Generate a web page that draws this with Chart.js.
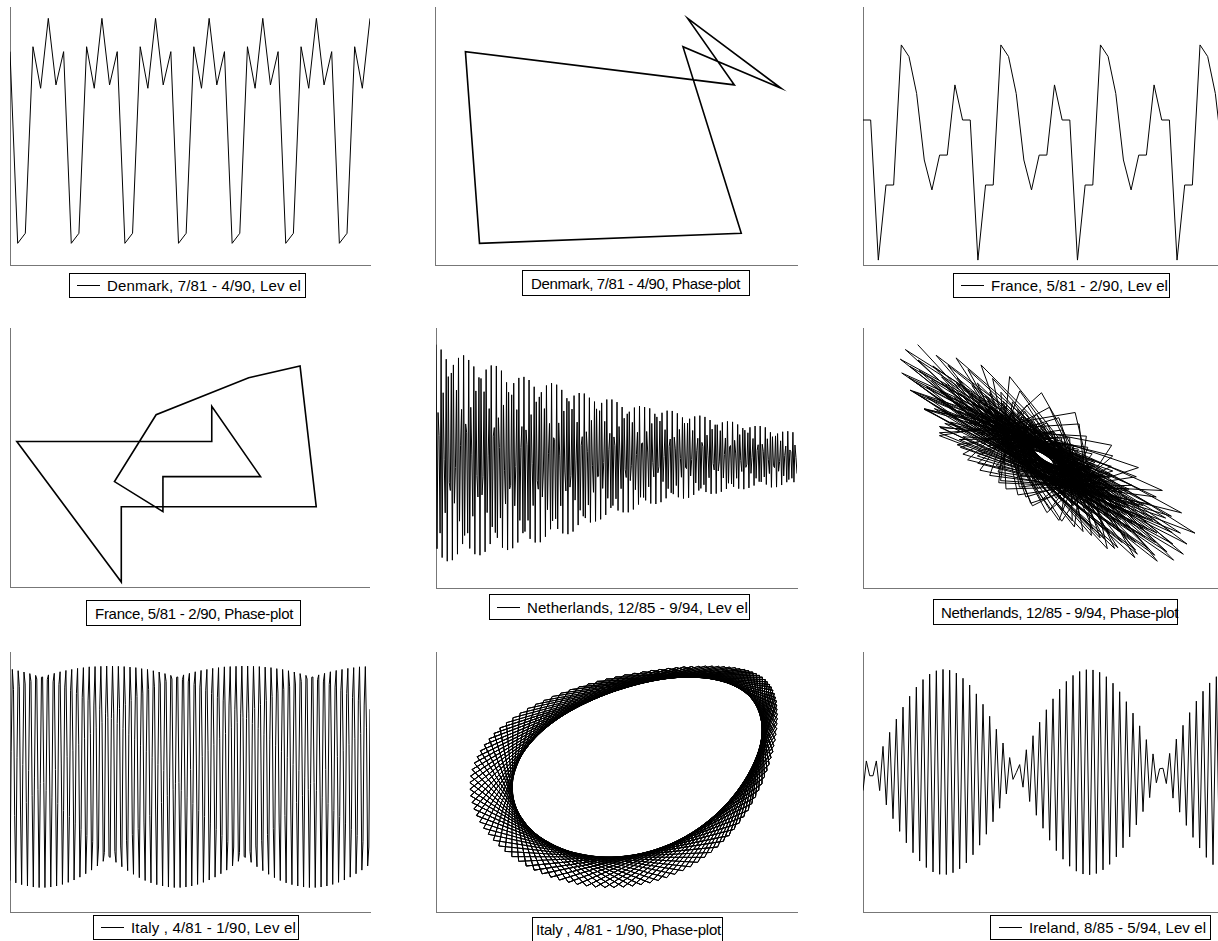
<!DOCTYPE html>
<html>
<head>
<meta charset="utf-8">
<script src="https://cdn.jsdelivr.net/npm/chart.js@4.4.1/dist/chart.umd.min.js"></script>
<style>
  body { margin: 0; width: 1218px; height: 941px; overflow: hidden; background: #fff; position: relative;
         font-family: "Liberation Sans", Arial, Helvetica, sans-serif; }
  canvas { position: absolute; }
  .leg { position: absolute; box-sizing: border-box; border: 1px solid #000; background: #fff;
         font-size: 15px; white-space: nowrap; color: #000; display: flex; align-items: center; }
  .leg .ln { display: inline-block; width: 23px; height: 0; border-top: 1px solid #000; margin-right: 7px; }
</style>
</head>
<body>
<script>
// values are in percent of each panel's value range (0 = x axis, 100 = top of y axis)
const denmarkLevel = [82.7,
  8.4, 12.3, 84.6, 68.5, 95.6, 69.8, 82.7,
  8.4, 12.3, 84.6, 68.5, 95.6, 69.8, 82.7,
  8.4, 12.3, 84.6, 68.5, 95.6, 69.8, 82.7,
  8.4, 12.3, 84.6, 68.5, 95.6, 69.8, 82.7,
  8.4, 12.3, 84.6, 68.5, 95.6, 69.8, 82.7,
  8.4, 12.3, 84.6, 68.5, 95.6, 69.8, 82.7,
  8.4, 12.3, 84.6, 68.5, 95.6];

const franceLevel = [56.2, 56.2,
  1.9, 31.0, 31.0, 85.3, 80.8, 66.5, 40.7, 29.1, 42.6, 42.6, 69.8, 56.2, 56.2,
  1.9, 31.0, 31.0, 85.3, 80.8, 66.5, 40.7, 29.1, 42.6, 42.6, 69.8, 56.2, 56.2,
  1.9, 31.0, 31.0, 85.3, 80.8, 66.5, 40.7, 29.1, 42.6, 42.6, 69.8, 56.2, 56.2,
  1.9, 31.0, 31.0, 85.3, 80.8, 66.5, 40.7];

const netherlandsLevel = [
  93.6, 15.1, 67.5, 58.6, 21.1, 91.7, 11.7, 75.1, 49.3, 28.9, 88.0, 10.3, 81.3, 40.5, 37.5,
  82.7, 10.7, 85.8, 32.6, 46.3, 76.1, 13.0, 88.5, 25.7, 54.9, 68.7, 16.9, 89.5, 20.2, 63.1,
  59.7, 21.1, 87.7, 15.2, 69.5, 51.5, 27.6, 85.2, 13.0, 75.8, 43.3, 35.0, 81.0, 12.6, 80.6,
  35.8, 42.8, 75.5, 13.9, 84.0, 29.0, 50.8, 69.0, 16.9, 85.6, 23.5, 58.4, 61.7, 21.3, 85.4,
  19.3, 65.5, 54.1, 26.9, 83.6, 15.5, 70.4, 45.3, 32.3, 79.1, 14.6, 75.3, 38.1, 39.5, 74.3,
  15.3, 78.8, 31.6, 46.8, 68.6, 17.5, 80.8, 26.0, 54.1, 62.1, 21.1, 81.2, 21.7, 60.8, 55.1,
  26.0, 80.0, 18.9, 66.7, 48.0, 31.7, 77.4, 17.5, 71.6, 41.3, 38.0, 73.5, 17.6, 75.3, 35.0,
  45.0, 69.0, 19.7, 77.9, 30.1, 51.6, 63.3, 22.6, 78.8, 25.8, 57.8, 57.1, 26.6, 78.2, 22.7,
  63.5, 50.8, 31.6, 76.2, 21.0, 68.1, 44.6, 37.3, 73.0, 20.7, 71.8, 38.8, 43.2, 68.8, 21.7,
  74.0, 33.8, 49.2, 63.8, 24.2, 75.0, 29.9, 54.9, 58.2, 27.6, 74.8, 26.9, 60.1, 52.6, 31.9,
  73.2, 25.2, 64.5, 47.0, 36.8, 71.7, 25.6, 68.9, 42.8, 43.0, 68.2, 26.4, 71.2, 38.3, 48.3,
  64.1, 28.1, 72.5, 34.5, 53.4, 59.5, 30.8, 72.5, 31.7, 58.1, 54.7, 34.3, 71.5, 29.8, 62.1,
  50.0, 38.2, 69.6, 29.1, 65.3, 45.5, 42.5, 67.0, 29.1, 67.8, 41.3, 47.0, 63.7, 30.2, 69.4,
  37.8, 51.4, 59.9, 32.1, 70.0, 34.9, 55.6, 55.8, 34.8, 69.6, 33.7, 60.2, 52.3, 38.9, 69.1,
  32.5, 63.3, 48.2, 42.7, 67.0, 32.3, 65.8, 44.3, 46.6, 64.2, 33.0, 67.4, 40.9, 50.6, 60.9,
  34.5, 68.2, 38.2, 54.5, 57.3, 36.6, 68.1, 36.1, 58.0, 53.5, 39.4, 67.2, 34.9, 61.0, 49.8,
  42.6, 65.6, 34.4, 63.4, 46.3, 45.9, 63.4, 34.7, 65.1, 43.1, 49.4, 60.6, 35.8, 66.0, 40.4,
  52.8, 57.6, 37.5, 66.3, 38.3, 56.0, 54.4, 39.7, 65.8, 36.9, 58.8, 51.1, 42.4, 64.6, 36.2,
  61.1, 47.9, 45.4, 62.8, 36.3, 62.8, 45.0, 48.5, 60.5, 37.0, 63.7, 42.3, 51.3, 57.7, 38.1,
  64.1, 40.3, 54.2, 54.8, 40.0, 63.9, 38.9, 56.8, 51.9, 42.2, 62.9, 38.2, 59.0, 49.0, 44.8,
  61.5, 38.0, 60.7, 46.4, 47.6, 59.7, 38.5, 61.8, 44.1, 50.3, 57.5, 39.4, 62.3, 42.2, 52.9,
  55.1, 40.9, 62.3, 40.8, 55.3, 52.6, 42.7, 61.8, 39.8, 57.4, 49.3, 44.0, 59.9, 38.7, 58.2,
  47.0, 46.3, 58.5, 38.8, 59.4, 44.9, 48.7, 56.6, 39.6, 60.1, 43.1, 51.0, 54.6, 40.7, 60.3,
  41.7, 53.1, 52.4, 42.2, 59.9, 40.7, 55.0, 50.2, 44.0];

const italyLevel = [
  12.1, 61.6, 93.3, 85.5, 37.1, 11.2, 59.3, 92.8, 86.6, 39.6, 10.5, 56.8, 92.3, 87.7, 42.1, 10.0, 54.4, 91.7, 88.7, 44.7,
  9.6, 51.9, 91.0, 89.6, 47.2, 9.4, 49.3, 90.3, 90.4, 49.8, 9.4, 46.8, 89.4, 91.2, 52.3, 9.6, 44.2, 88.5, 91.8, 54.8,
  10.0, 41.7, 87.5, 92.4, 57.3, 10.6, 39.1, 86.5, 92.9, 59.7, 11.4, 36.7, 85.3, 93.3, 62.0, 12.3, 34.2, 84.0, 93.7, 64.3,
  13.4, 31.8, 82.6, 94.0, 66.6, 14.7, 29.4, 81.2, 94.3, 68.7, 16.1, 27.2, 79.6, 94.4, 70.8, 17.7, 25.0, 78.0, 94.5, 72.8,
  19.5, 22.9, 76.2, 94.6, 74.7, 21.3, 21.0, 74.4, 94.6, 76.5, 23.3, 19.1, 72.5, 94.5, 78.3, 25.4, 17.4, 70.5, 94.4, 79.9,
  27.6, 15.9, 68.4, 94.2, 81.4, 29.9, 14.5, 66.2, 94.0, 82.9, 32.2, 13.2, 63.9, 93.6, 84.2, 34.6,
  12.1, 61.6, 93.3, 85.5, 37.1, 11.2, 59.3, 92.8, 86.6, 39.6, 10.5, 56.8, 92.3, 87.7, 42.1, 10.0, 54.4, 91.7, 88.7, 44.7,
  9.6, 51.9, 91.0, 89.6, 47.2, 9.4, 49.3, 90.3, 90.4, 49.8, 9.4, 46.8, 89.4, 91.2, 52.3, 9.6, 44.2, 88.5, 91.8, 54.8,
  10.0, 41.7, 87.5, 92.4, 57.3, 10.6, 39.1, 86.5, 92.9, 59.7, 11.4, 36.7, 85.3, 93.3, 62.0, 12.3, 34.2, 84.0, 93.7, 64.3,
  13.4, 31.8, 82.6, 94.0, 66.6, 14.7, 29.4, 81.2, 94.3, 68.7, 16.1, 27.2, 79.6, 94.4, 70.8, 17.7, 25.0, 78.0, 94.5, 72.8,
  19.5, 22.9, 76.2, 94.6, 74.7, 21.3, 21.0, 74.4, 94.6, 76.5, 23.3, 19.1, 72.5, 94.5, 78.3, 25.4, 17.4, 70.5, 94.4, 79.9,
  27.6, 15.9, 68.4, 94.2, 81.4, 29.9, 14.5, 66.2, 94.0, 82.9, 32.2, 13.2, 63.9, 93.6, 84.2, 34.6,
  12.1, 61.6, 93.3, 85.5, 37.1, 11.2, 59.3, 92.8, 86.6, 39.6, 10.5, 56.8, 92.3, 87.7, 42.1, 10.0, 54.4, 91.7, 88.7, 44.7,
  9.6, 51.9, 91.0, 89.6, 47.2, 9.4, 49.3, 90.3, 90.4, 49.8, 9.4, 46.8, 89.4, 91.2, 52.3, 9.6, 44.2, 88.5, 91.8, 54.8,
  10.0, 41.7, 87.5, 92.4, 57.3, 10.6, 39.1, 86.5, 92.9, 59.7, 11.4, 36.7, 85.3, 93.3, 62.0, 12.3, 34.2, 84.0, 93.7, 64.3,
  13.4, 31.8, 82.6, 94.0, 66.6, 14.7, 29.4, 81.2, 94.3, 68.7, 16.1, 27.2, 79.6, 94.4, 70.8, 17.7, 25.0, 78.0];

const irelandLevel = [
  46.7, 58.1, 52.4, 52.4, 58.1, 46.7, 63.7, 41.2, 69.1, 35.9, 74.2, 31.0, 78.8, 26.6, 83.0, 22.8, 86.5, 19.6, 89.4, 17.1,
  91.5, 15.4, 92.8, 14.5, 93.3, 14.4, 93.0, 15.1, 91.9, 16.6, 89.9, 18.9, 87.3, 22.0, 83.9, 25.7, 79.9, 29.9, 75.3, 34.7,
  70.3, 39.9, 65.0, 45.4, 59.4, 51.0, 53.7, 56.7, 48.0, 62.4, 42.5, 67.8, 37.2, 73.0, 32.2, 77.8, 27.6, 82.0, 23.6, 85.7,
  20.3, 88.7, 17.6, 91.0, 15.7, 92.5, 14.6, 93.2, 14.3, 93.1, 14.8, 92.2, 16.2, 90.5, 18.3, 88.0, 21.2, 84.7, 24.7, 80.9,
  28.9, 76.5, 33.5, 71.6, 38.6, 66.3, 44.0, 60.8, 49.7, 55.1, 55.3, 49.4, 61.0, 43.8, 66.5, 38.4, 71.8, 33.3, 76.7, 28.7,
  81.1, 24.6, 84.9, 21.0, 88.1, 18.2, 90.5, 16.1, 92.2];

const legendTexts = [
  "Denmark, 7/81 - 4/90, Lev el", "Denmark, 7/81 - 4/90, Phase-plot", "France, 5/81 - 2/90, Lev el",
  "France, 5/81 - 2/90, Phase-plot", "Netherlands, 12/85 - 9/94, Lev el", "Netherlands, 12/85 - 9/94, Phase-plot",
  "Italy , 4/81 - 1/90, Lev el", "Italy , 4/81 - 1/90, Phase-plot", "Ireland, 8/85 - 5/94, Lev el"
];

// panel layout: plot rectangle, line width, legend box
const panels = [
  { series: denmarkLevel, kind: "level", x: 10, y: 7, w: 360, h: 258, lw: 1,
    leg: { x: 69, y: 273, w: 237, h: 25, pad: 7, tw: 194 } },
  { series: denmarkLevel, kind: "phase", x: 435, y: 7, w: 362, h: 258, lw: 1.6,
    leg: { x: 522, y: 270, w: 228, h: 26, pad: 8, tw: 209 } },
  { series: franceLevel, kind: "level", x: 863, y: 7, w: 360, h: 258, lw: 1,
    leg: { x: 953, y: 273, w: 217, h: 25, pad: 7, tw: 177 } },
  { series: franceLevel, kind: "phase", x: 10, y: 328, w: 359, h: 259, lw: 1.6,
    leg: { x: 86, y: 600, w: 215, h: 26, pad: 8, tw: 198 } },
  { series: netherlandsLevel, kind: "level", x: 436, y: 328, w: 361, h: 260, lw: 1,
    leg: { x: 489, y: 594, w: 261, h: 26, pad: 7, tw: 221 } },
  { series: netherlandsLevel, kind: "phase", x: 863, y: 328, w: 362, h: 260, lw: 1,
    leg: { x: 933, y: 599, w: 245, h: 26, pad: 7, tw: 237 } },
  { series: italyLevel, kind: "level", x: 10, y: 652, w: 360, h: 260, lw: 1,
    leg: { x: 93, y: 915, w: 206, h: 25, pad: 7, tw: 165 } },
  { series: italyLevel, kind: "phase", x: 436, y: 652, w: 361, h: 260, lw: 1,
    leg: { x: 532, y: 917, w: 191, h: 25, pad: 3, tw: 185 } },
  { series: irelandLevel, kind: "level", x: 863, y: 652, w: 360, h: 260, lw: 1,
    leg: { x: 990, y: 915, w: 221, h: 25, pad: 8, tw: 177 } }
];

function axis(min, max) {
  return {
    type: "linear", min: min, max: max,
    grid: { display: false, drawTicks: false },
    ticks: { display: false },
    border: { display: true, color: "#777", width: 1 }
  };
}

function buildPoints(p) {
  const s = p.series;
  if (p.kind === "level") return s.map((v, i) => ({ x: i, y: v }));
  // phase-plot: current value against the previous one
  const pts = [];
  for (let t = 1; t < s.length; t++) pts.push({ x: s[t], y: s[t - 1] });
  return pts;
}

const PAD = 3;
panels.forEach((p, i) => {
  const c = document.createElement("canvas");
  c.width = p.w + 2 * PAD;
  c.height = p.h + 2 * PAD;
  c.style.left = (p.x - PAD) + "px";
  c.style.top = (p.y - PAD) + "px";
  c.style.width = c.width + "px";
  c.style.height = c.height + "px";
  document.body.appendChild(c);

  new Chart(c.getContext("2d"), {
    type: "scatter",
    data: {
      datasets: [{
        data: buildPoints(p),
        showLine: true,
        borderColor: "#000",
        borderWidth: p.lw,
        pointRadius: 0,
        fill: false,
        tension: 0
      }]
    },
    options: {
      responsive: false,
      animation: false,
      events: [],
      layout: { padding: PAD },
      plugins: { legend: { display: false }, tooltip: { enabled: false } },
      scales: {
        x: p.kind === "level" ? axis(0, p.series.length - 1) : axis(0, 100),
        y: axis(0, 100)
      }
    }
  });

  // legend box
  const L = p.leg;
  const d = document.createElement("div");
  d.className = "leg";
  d.style.left = L.x + "px";
  d.style.top = L.y + "px";
  d.style.width = L.w + "px";
  d.style.height = L.h + "px";
  d.style.paddingLeft = L.pad + "px";
  if (p.kind === "level") {
    const ln = document.createElement("span");
    ln.className = "ln";
    d.appendChild(ln);
  }
  const sp = document.createElement("span");
  sp.textContent = legendTexts[i];
  d.appendChild(sp);
  document.body.appendChild(d);
  const natural = sp.getBoundingClientRect().width;
  sp.style.letterSpacing = ((L.tw - natural) / legendTexts[i].length).toFixed(2) + "px";
});
</script>
</body>
</html>
